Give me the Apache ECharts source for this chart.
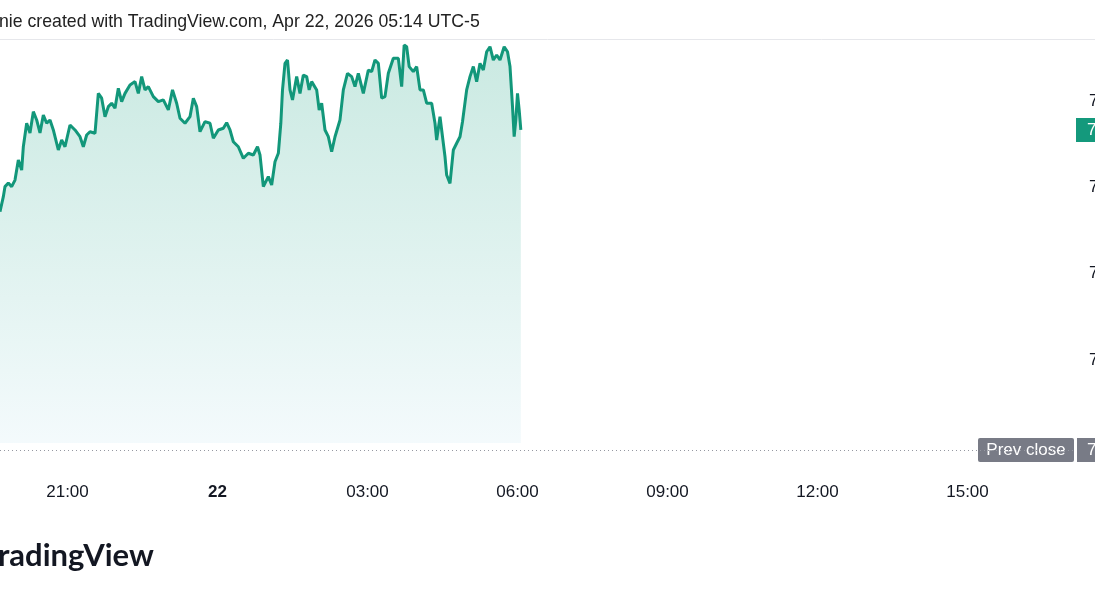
<!DOCTYPE html>
<html><head><meta charset="utf-8">
<script src="https://cdn.jsdelivr.net/npm/echarts@6/dist/echarts.min.js"></script>
<style>html,body{margin:0;padding:0;background:#fff;overflow:hidden}#c{width:1095px;height:600px}</style>
</head><body><div id="c"></div>
<script>
const titleText = 'nie created with TradingView.com, Apr 22, 2026 05:14 UTC-5';
const logoText = 'radingView';

const times = ['19:39','19:43','19:45','19:49','19:53','19:57','20:01','20:05','20:07','20:11',
'20:15','20:19','20:23','20:27','20:31','20:35','20:39','20:43','20:49','20:53',
'20:57','21:03','21:09','21:15','21:19','21:23','21:27','21:33','21:37','21:41',
'21:45','21:49','21:53','21:57','22:01','22:05','22:09','22:15','22:21','22:25',
'22:29','22:33','22:37','22:43','22:49','22:55','23:01','23:06','23:11','23:15',
'23:21','23:27','23:31','23:35','23:39','23:45','23:51','23:55','00:01','00:07',
'00:11','00:15','00:19','00:25','00:31','00:37','00:43','00:48','00:51','00:55',
'01:01','01:05','01:09','01:13','01:16','01:18','01:21','01:24','01:27','01:30',
'01:35','01:39','01:43','01:47','01:50','01:53','01:59','02:02','02:05','02:09',
'02:13','02:17','02:21','02:27','02:31','02:36','02:41','02:45','02:49','02:55',
'03:01','03:05','03:09','03:13','03:17','03:21','03:25','03:31','03:37','03:41',
'03:44','03:47','03:50','03:55','03:59','04:03','04:07','04:11','04:17','04:21',
'04:23','04:27','04:30','04:33','04:35','04:39','04:43','04:47','04:51','04:54',
'04:59','05:03','05:07','05:11','05:15','05:19','05:23','05:27','05:31','05:35',
'05:39','05:44','05:48','05:51','05:54','05:56','05:58','06:00','06:02','06:04'];

const prices = [77.359,77.446,77.504,77.525,77.504,77.542,77.658,77.600,77.735,77.871,
77.815,77.938,77.890,77.815,77.919,77.871,77.890,77.832,77.716,77.774,
77.735,77.861,77.832,77.793,77.735,77.803,77.822,77.813,78.044,78.016,
77.909,77.967,77.987,77.958,78.073,77.996,78.044,78.093,78.112,78.044,
78.141,78.064,78.083,78.025,77.996,78.006,77.948,78.064,77.987,77.900,
77.871,77.909,78.016,77.967,77.822,77.880,77.871,77.784,77.832,77.842,
77.874,77.832,77.764,77.735,77.668,77.697,77.687,77.735,77.687,77.504,
77.562,77.513,77.648,77.697,77.871,78.064,78.218,78.237,78.064,78.006,
78.141,78.044,78.150,78.141,78.064,78.112,78.064,77.948,77.987,77.832,
77.793,77.706,77.793,77.890,78.064,78.160,78.141,78.083,78.160,78.044,
78.179,78.170,78.237,78.218,78.016,78.025,78.160,78.247,78.247,78.083,
78.324,78.314,78.199,78.170,78.199,78.064,78.064,77.987,77.987,77.871,
77.774,77.909,77.793,77.677,77.571,77.523,77.716,77.755,77.793,77.880,
78.064,78.141,78.199,78.112,78.218,78.179,78.285,78.314,78.237,78.266,
78.237,78.314,78.285,78.199,77.967,77.793,77.890,78.044,77.948,77.832];

const prevClose = 75.979;
const fillBase = 76.02;
const xRange = [19.65, 41.17];
const yRange = [75.892, 78.353];
const xTickValues = [21, 24, 27, 30, 33, 36, 39];
const xTickLabels = ['21:00', '22', '03:00', '06:00', '09:00', '12:00', '15:00'];
const yTickValues = [76.5, 77, 77.5, 78];
const yTickLabels = ['76.50', '77.00', '77.50', '78.00'];

function toHours(s) {
  const [h, m] = s.split(':').map(Number);
  return (h < 12 ? h + 24 : h) + m / 60;
}
const seriesData = times.map((t, i) => [toHours(t), prices[i]]);
const lastPrice = prices[prices.length - 1];

const FONT = '"Liberation Sans", Arial, sans-serif';
const chart = echarts.init(document.getElementById('c'), null, {renderer: 'canvas'});

chart.setOption({
  animation: false,
  backgroundColor: '#ffffff',
  grid: {left: 0, right: 19, top: 40, bottom: 135, containLabel: false, outerBoundsMode: 'none'},
  xAxis: {
    type: 'value', min: xRange[0], max: xRange[1],
    axisLine: {show: false}, axisTick: {show: false}, splitLine: {show: false},
    axisLabel: {
      customValues: xTickValues, margin: 19, fontSize: 17, color: '#131722', fontFamily: FONT,
      formatter: function (v) {
        const i = xTickValues.findIndex(t => Math.abs(t - v) < 1e-6);
        if (i < 0) return '';
        return i === 1 ? '{b|' + xTickLabels[i] + '}' : xTickLabels[i];
      },
      rich: {b: {fontWeight: 'bold', fontSize: 17, fontFamily: FONT, color: '#131722'}}
    }
  },
  yAxis: {
    type: 'value', position: 'right', min: yRange[0], max: yRange[1],
    axisLine: {show: false}, axisTick: {show: false}, splitLine: {show: false},
    axisLabel: {
      customValues: yTickValues, margin: 13, fontSize: 17, color: '#131722', fontFamily: FONT,
      formatter: function (v) {
        const i = yTickValues.findIndex(t => Math.abs(t - v) < 1e-6);
        return i < 0 ? '' : yTickLabels[i];
      }
    }
  },
  series: [{
    type: 'line',
    data: seriesData,
    symbol: 'none',
    showSymbol: false,
    lineStyle: {color: '#12977a', width: 3},
    areaStyle: {
      origin: fillBase,
      color: new echarts.graphic.LinearGradient(0, 0, 0, 1, [
        {offset: 0, color: '#b3e0d5'},
        {offset: 0.5, color: '#d0ece7'},
        {offset: 1, color: '#eff8fb'}
      ])
    },
    markLine: {
      symbol: 'none', silent: true, animation: false,
      data: [{yAxis: prevClose}],
      lineStyle: {type: [1, 3], color: '#9598a1', width: 1},
      label: {show: false}
    }
  }]
});

const yPrev = chart.convertToPixel({yAxisIndex: 0}, prevClose);
const yLast = chart.convertToPixel({yAxisIndex: 0}, lastPrice);
const xRight = chart.convertToPixel({xAxisIndex: 0}, xRange[1]);

chart.setOption({
  graphic: [
    {type: 'line', shape: {x1: 0, y1: 39.5, x2: 1095, y2: 39.5}, style: {stroke: '#e6e7eb', lineWidth: 1}},
    {type: 'text', left: -1, top: 13, style: {text: titleText, fontSize: 17.7, fontFamily: FONT, fill: '#222'}},
    {type: 'text', left: -2, top: 540, style: {text: logoText, fontSize: 31, fontWeight: 'bold', fontFamily: '"Lato", "Inter", sans-serif', fill: '#131722'}},
    {type: 'rect', shape: {x: xRight, y: yLast - 12, width: 30, height: 24}, style: {fill: '#14997c'}},
    {type: 'text', x: xRight + 11, y: yLast, style: {text: lastPrice.toFixed(2), fontSize: 17, fontFamily: FONT, fill: '#fff', verticalAlign: 'middle'}},
    {type: 'rect', shape: {x: xRight - 98, y: yPrev - 12, width: 96, height: 24, r: 2}, style: {fill: '#787b86'}},
    {type: 'text', x: xRight - 50, y: yPrev, style: {text: 'Prev close', fontSize: 17, fontFamily: FONT, fill: '#fff', align: 'center', verticalAlign: 'middle'}},
    {type: 'rect', shape: {x: xRight + 1, y: yPrev - 12, width: 30, height: 24}, style: {fill: '#787b86'}},
    {type: 'text', x: xRight + 11, y: yPrev, style: {text: prevClose.toFixed(2), fontSize: 17, fontFamily: FONT, fill: '#fff', verticalAlign: 'middle'}}
  ]
});
</script></body></html>
